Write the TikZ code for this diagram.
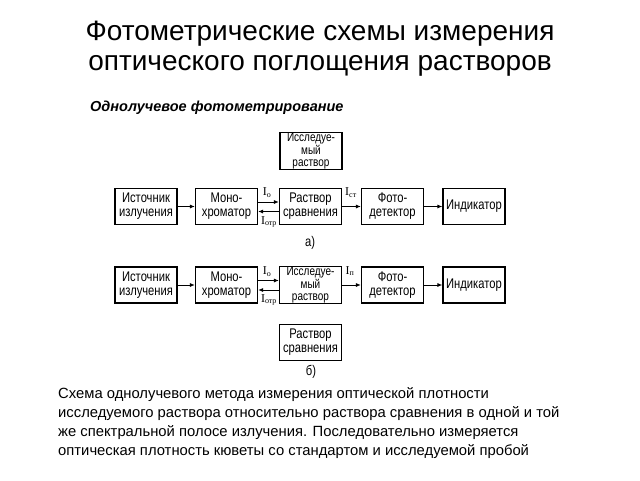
\documentclass[tikz,border=0pt]{standalone}
\usepackage{fontspec}
\setmainfont{Liberation Sans}
\newfontfamily\narrowfont[FakeStretch=0.8]{Liberation Sans}
\newfontfamily\serifI{Liberation Serif}
\usetikzlibrary{arrows.meta}
\begin{document}
\begin{tikzpicture}[x=1pt,y=-1pt,
  blk/.style={draw, line width=1.1pt, minimum width=62pt, minimum height=36pt, inner sep=1pt, align=center, font=\narrowfont\fontsize{14}{14}\selectfont},
  blk3/.style={blk, inner sep=0.5pt, font=\narrowfont\fontsize{12.5}{11.8}\selectfont},
  arr/.style={-{Latex[length=5pt,width=4pt]}, line width=1pt},
  lab/.style={font=\serifI\fontsize{12}{12}\selectfont, inner sep=0pt},
  sublabel/.style={font=\narrowfont\fontsize{14}{14}\selectfont, inner sep=0pt},
  ttl/.style={font=\fontsize{28}{30}\selectfont, inner sep=0pt, anchor=base},
  para/.style={font=\fontsize{14.8}{19}\selectfont, inner sep=0pt, anchor=base west}]
\useasboundingbox (0,0) rectangle (640,480);

\node[ttl] (title1) at (320,40) {Фотометрические схемы измерения};
\node[ttl] (title2) at (320,70) {оптического поглощения растворов};
\node[anchor=base west, font=\bfseries\itshape\fontsize{14.5}{16}\selectfont, inner sep=0pt] (sub) at (90,111) {Однолучевое фотометрирование};

% row a
\node[blk3] (sampA) at (311,151) {Исследуе-\\мый\\раствор};
\node[blk] (srcA) at (146,206.5) {Источник\\излучения};
\node[blk] (monoA) at (226.5,206.5) {Моно-\\хроматор};
\node[blk] (refA) at (310.5,206.5) {Раствор\\сравнения};
\node[blk] (detA) at (392.5,206.5) {Фото-\\детектор};
\node[blk] (indA) at (474,206.5) {Индикатор};
\draw[arr] (srcA) -- (monoA);
\draw[arr] ([yshift=4.5pt]monoA.east) -- ([yshift=4.5pt]refA.west);
\draw[arr] ([yshift=-5pt]refA.west) -- ([yshift=-5pt]monoA.east);
\draw[arr] (refA) -- (detA);
\draw[arr] (detA) -- (indA);
\node[lab] (i0a) at (267,193) {I\textsubscript{о}};
\node[lab] (iotra) at (269,222) {I\textsubscript{отр}};
\node[lab] (ista) at (351,193) {I\textsubscript{ст}};
\node[sublabel] (capa) at (310,243) {а)};

% row b
\node[blk] (srcB) at (146,285) {Источник\\излучения};
\node[blk] (monoB) at (226.5,285) {Моно-\\хроматор};
\node[blk3] (sampB) at (310.5,285) {Исследуе-\\мый\\раствор};
\node[blk] (detB) at (392.5,285) {Фото-\\детектор};
\node[blk] (indB) at (474,285) {Индикатор};
\node[blk] (refB) at (310.5,342.5) {Раствор\\сравнения};
\draw[arr] (srcB) -- (monoB);
\draw[arr] ([yshift=4.5pt]monoB.east) -- ([yshift=4.5pt]sampB.west);
\draw[arr] ([yshift=-5pt]sampB.west) -- ([yshift=-5pt]monoB.east);
\draw[arr] (sampB) -- (detB);
\draw[arr] (detB) -- (indB);
\node[lab] (i0b) at (267,272) {I\textsubscript{о}};
\node[lab] (iotrb) at (269,300) {I\textsubscript{отр}};
\node[lab] (ipb) at (350,271) {I\textsubscript{п}};
\node[sublabel] (capb) at (311,372) {б)};

\node[para] (d1) at (58,398) {Схема однолучевого метода измерения оптической плотности};
\node[para] (d2) at (58,417) {исследуемого раствора относительно раствора сравнения в одной и той};
\node[para] (d3) at (58,436) {же спектральной полосе излучения. Последовательно измеряется};
\node[para] (d4) at (58,455) {оптическая плотность кюветы со стандартом и исследуемой пробой};
\end{tikzpicture}
\end{document}
